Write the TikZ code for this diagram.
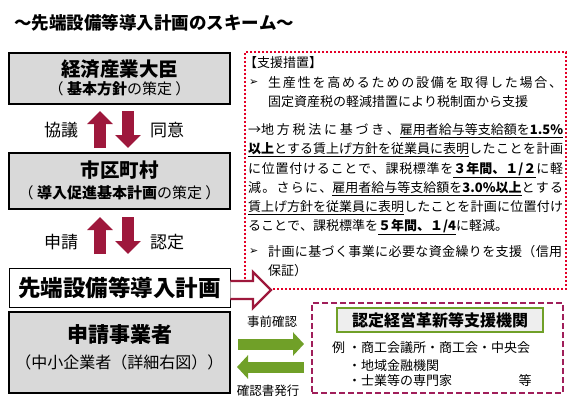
\documentclass[tikz,border=0pt]{standalone}
\usepackage{fontspec}
\setmainfont{Noto Sans CJK JP}
\newfontfamily\dejavu{DejaVu Sans}
\usetikzlibrary{arrows.meta}
\XeTeXinterchartokenstate=1
\newcount\cjkc
\def\setcjkrange#1#2{\cjkc=#1 \loop \XeTeXcharclass\cjkc=1 \ifnum\cjkc<#2 \advance\cjkc by 1 \repeat}
\setcjkrange{"3000}{"30FF}
\setcjkrange{"4E00}{"9FFF}
\setcjkrange{"FF00}{"FFEF}
\XeTeXinterchartoks 1 1 = {\hskip 0pt plus 1pt\relax}
\definecolor{dred}{RGB}{158,24,60}
\definecolor{bred}{RGB}{228,0,40}
\definecolor{mag}{RGB}{160,30,90}
\definecolor{grn}{RGB}{112,160,40}
\definecolor{boxgray}{RGB}{217,217,217}
\newcommand{\myul}[1]{\underline{#1}}
\newcommand{\jl}[2]{\hbox to #1{#2}}
\tikzset{
  graybox/.style={draw=black, line width=1.6pt, fill=boxgray, minimum width=221pt, inner sep=0pt},
  whitebox/.style={draw=black, line width=0.9pt, fill=white, minimum width=221pt, inner sep=0pt},
  big/.style={font=\fontsize{19.5}{22}\selectfont\bfseries, inner sep=0pt},
  sub/.style={font=\fontsize{15}{18}\selectfont, inner sep=0pt},
  lbl/.style={font=\fontsize{17}{20}\selectfont, inner sep=0pt},
  redarrow/.style={draw=dred, line width=12pt, -{Triangle[width=25pt,length=13pt]}},
  grnarrow/.style={draw=grn, line width=11pt, -{Triangle[width=23pt,length=11pt]}},
  txt/.style={font=\fontsize{13}{15}\selectfont, inner sep=0pt, anchor=west},
  small/.style={font=\fontsize{12.5}{15}\selectfont, inner sep=0pt},
  listtxt/.style={font=\fontsize{13}{15}\selectfont, inner sep=0pt},
}
\begin{document}
\begin{tikzpicture}[x=1pt,y=-1pt]
\useasboundingbox[fill=white] (0,0) rectangle (576,412);
% title
\node[anchor=west, inner sep=0pt, font=\fontsize{17.5}{21}\selectfont\bfseries] (title) at (14,23) {～先端設備等導入計画のスキーム～};
% left boxes
\node[graybox, minimum height=51pt] (b1) at (119.5,78.5) {};
\node[big] (b1t) at (119.5,69) {経済産業大臣};
\node[sub] (b1s) at (119.5,89) {（ \textbf{基本方針}の策定 ）};
\node[graybox, minimum height=56pt] (b2) at (119.5,181) {};
\node[big] (b2t) at (119.5,170) {市区町村};
\node[sub] (b2s) at (119.5,193) {（ \textbf{導入促進基本計画}の策定 ）};
\node[whitebox, minimum height=39pt, font=\fontsize{22.5}{25}\selectfont\bfseries] (b3) at (119.5,287.5) {先端設備等導入計画};
\node[graybox, minimum height=81pt] (b4) at (119.5,352.5) {};
\node[inner sep=0pt, font=\fontsize{21}{24}\selectfont\bfseries] (b4t) at (119.5,335) {申請事業者};
\node[inner sep=0pt, font=\fontsize{16}{19}\selectfont] (b4s) at (119.5,362) {（中小企業者（詳細右図））};
% arrows between boxes
\coordinate (u1a) at (100,148); \coordinate (u1b) at (100,111);
\coordinate (d1a) at (128,111); \coordinate (d1b) at (128,148);
\coordinate (u2a) at (100,254); \coordinate (u2b) at (100,217);
\coordinate (d2a) at (128,217); \coordinate (d2b) at (128,254);
\draw[redarrow] (u1a) -- (u1b);
\draw[redarrow] (d1a) -- (d1b);
\draw[redarrow] (u2a) -- (u2b);
\draw[redarrow] (d2a) -- (d2b);
\node[lbl] (l1) at (61,130) {協議};
\node[lbl] (l2) at (167,130) {同意};
\node[lbl] (l3) at (61,242) {申請};
\node[lbl] (l4) at (167,242) {認定};
% support box
\node[draw=bred, line width=2.4pt, dash pattern=on 2.2pt off 1.8pt, minimum width=321pt, minimum height=237pt, inner sep=0pt] (sup) at (405.5,170.5) {};
\node[txt] (s1) at (244,63) {【支援措置】};
\node[txt, font=\fontsize{11}{12}\dejavu] (s2a) at (249,83) {➢};
\node[txt] (s2) at (268,83) {\jl{294pt}{生産性を高めるための設備を取得した場合、}};
\node[txt] (s3) at (268,102) {固定資産税の軽減措置により税制面から支援};
\node[txt] (s4) at (248,131) {\jl{315pt}{→地方税法に基づき、\myul{雇用者給与等支給額を\textbf{1.5\%}}}};
\node[txt] (s5) at (248,150) {\jl{315pt}{\myul{\textbf{以上}とする賃上げ方針を従業員に表明}したことを計画}};
\node[txt] (s6) at (248,170) {\jl{315pt}{に位置付けることで、課税標準を\myul{\textbf{３年間、１/２}}に軽}};
\node[txt] (s7) at (248,189) {\jl{315pt}{減。さらに、\myul{雇用者給与等支給額を\textbf{3.0\%以上}}とする}};
\node[txt] (s8) at (248,208) {\jl{315pt}{\myul{賃上げ方針を従業員に表明}したことを計画に位置付け}};
\node[txt] (s9) at (248,227) {ることで、課税標準を\myul{\textbf{５年間、１/4}}に軽減。};
\node[txt, font=\fontsize{11}{12}\dejavu] (s10a) at (249,252) {➢};
\node[txt] (s10) at (268,252) {\jl{294pt}{計画に基づく事業に必要な資金繰りを支援（信用}};
\node[txt] (s11) at (268,271) {保証）};
% hollow arrow
\draw[draw=dred, line width=2.4pt, fill=white, line join=miter]
  (b3.east |- 0,281) -- (253,281) -- (253,272) -- (271,290) -- (253,308) -- (253,299) -- (b3.east |- 0,299);
% bottom right
\node[draw=mag, line width=2pt, dash pattern=on 6pt off 3pt, minimum width=251pt, minimum height=90pt, inner sep=0pt] (org) at (437.5,348) {};
\node[draw=grn, line width=1.5pt, fill={rgb,255:red,238;green,238;blue,238}, minimum width=206pt, minimum height=24pt, inner sep=0pt, font=\fontsize{16}{19}\selectfont\bfseries] (orgt) at (440,320) {認定経営革新等支援機関};
\node[listtxt, anchor=west] (o1) at (332,348) {例 ・商工会議所・商工会・中央会};
\node[listtxt, anchor=west] (o2) at (348,366) {・地域金融機関};
\node[listtxt, anchor=west] (o3) at (348,381) {・士業等の専門家};
\node[listtxt] (o4) at (525,381) {等};
% green arrows
\coordinate (g1a) at (238,344); \coordinate (g1b) at (304,344);
\coordinate (g2a) at (304,367); \coordinate (g2b) at (237,367);
\draw[grnarrow] (g1a) -- (g1b);
\draw[grnarrow] (g2a) -- (g2b);
\node[small] (gl1) at (272,322) {事前確認};
\node[small] (gl2) at (268,391) {確認書発行};
\end{tikzpicture}
\end{document}
